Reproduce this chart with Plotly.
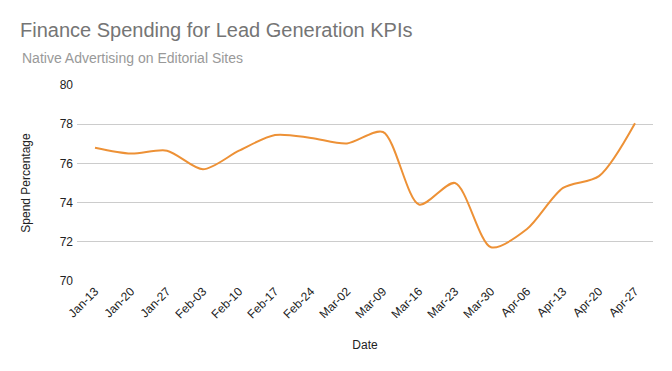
import plotly.graph_objects as go

dates = ["Jan-13", "Jan-20", "Jan-27", "Feb-03", "Feb-10", "Feb-17", "Feb-24", "Mar-02",
         "Mar-09", "Mar-16", "Mar-23", "Mar-30", "Apr-06", "Apr-13", "Apr-20", "Apr-27"]
spend = [76.8, 76.5, 76.65, 75.7, 76.65, 77.45, 77.3, 77.02,
         77.6, 73.9, 75.0, 71.72, 72.65, 74.75, 75.35, 78.05]
y_ticks = [70, 72, 74, 76, 78, 80]

FONT = "Liberation Sans"

fig = go.Figure()
fig.add_trace(go.Scatter(
    x=dates, y=spend, mode="lines",
    line=dict(color="#ED9136", width=2, shape="spline", smoothing=0.8),
    hoverinfo="x+y", showlegend=False,
))

fig.update_layout(
    width=672, height=371,
    margin=dict(l=77, r=19, t=85, b=90, autoexpand=False),
    paper_bgcolor="white", plot_bgcolor="white",
    font=dict(family=FONT, color="#222222"),
    title=dict(text="Finance Spending for Lead Generation KPIs",
               font=dict(family=FONT, size=20, color="#757575"),
               x=20 / 672, xanchor="left", xref="container",
               y=1 - 30 / 371, yanchor="middle", yref="container"),
    annotations=[dict(text="Native Advertising on Editorial Sites",
                      xref="paper", yref="paper",
                      x=(20 - 77) / (672 - 77 - 19), xanchor="left",
                      y=1 + (85 - 58) / (371 - 85 - 90), yanchor="middle",
                      showarrow=False,
                      font=dict(family=FONT, size=14, color="#999999"))],
    xaxis=dict(
        type="category", range=[-0.5, len(dates) - 0.5], automargin=False,
        tickangle=-45, tickfont=dict(family=FONT, size=12, color="#222222"),
        showgrid=False, zeroline=False, showline=False, ticks="",
        title=dict(text="Date", font=dict(family=FONT, size=12, color="#222222"), standoff=20),
    ),
    yaxis=dict(
        range=[70, 80], tickvals=y_ticks, automargin=False, ticklabelstandoff=3,
        tickfont=dict(family=FONT, size=12, color="#222222"),
        showgrid=True, gridcolor="#CCCCCC", gridwidth=1,
        zeroline=False, showline=False, ticks="",
        title=dict(text="Spend Percentage", font=dict(family=FONT, size=12, color="#222222"), standoff=26),
    ),
)

fig.write_html("out.html", config={"displayModeBar": False},
               post_script="document.body.style.margin='0';document.body.style.padding='0';")
